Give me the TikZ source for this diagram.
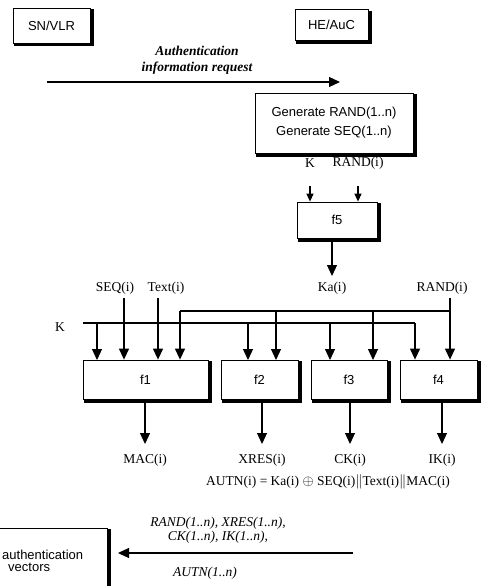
\documentclass[tikz,border=0pt]{standalone}
\usepackage{fontspec}
\setmainfont{Liberation Serif}
\setsansfont{Liberation Sans}
\usetikzlibrary{arrows.meta,calc}
\begin{document}
\begin{tikzpicture}[x=1pt,y=-1pt,
  box/.style={draw, fill=white, line width=0.8pt, font=\sffamily\fontsize{13}{15}\selectfont,
    inner sep=0pt, align=center},
  shade/.style={line width=2.6pt, line cap=rect},
  lbl/.style={font=\fontsize{13.5}{15}\selectfont, inner sep=0pt},
  ilbl/.style={font=\itshape\fontsize{13.5}{14}\selectfont, inner sep=0pt, align=center},
  conn/.style={line width=1.2pt},
  arr/.style={line width=1.2pt, -{Triangle[width=10pt,length=11pt]}},
  sarr/.style={line width=1.2pt, -{Triangle[width=7pt,length=8pt]}}
]
\useasboundingbox (0,0) rectangle (482,586);

% top boxes
\node[box, minimum width=77pt, minimum height=35pt] (sn) at (51.5,25.5) {SN/VLR};
\node[box, minimum width=73pt, minimum height=31pt] (he) at (331.5,25) {HE/AuC};

% request
\coordinate (rqs) at (47,82);
\coordinate (rqe) at (340,82);
\draw[arr] (rqs) -- (rqe);
\node[ilbl, font=\bfseries\itshape\fontsize{13.5}{16}\selectfont] (rql) at (197,60) {Authentication\\information request};

% generate
\node[box, minimum width=158pt, minimum height=60pt, font=\sffamily\fontsize{13}{19}\selectfont] (gen) at (334,123) {Generate RAND(1..n)\\Generate SEQ(1..n)};

% f5
\node[lbl] (k1) at (310,163) {K};
\node[lbl] (r1) at (358,163) {RAND(i)};
\node[box, minimum width=80pt, minimum height=36pt] (f5) at (337,220) {f5};
\coordinate (k1s) at (310,186);
\coordinate (r1s) at (358,186);
\draw[sarr] (k1s) -- (k1s |- f5.north);
\draw[sarr] (r1s) -- (r1s |- f5.north);

\node[lbl] (ka) at (332,288) {Ka(i)};
\coordinate (kas) at (332,240);
\draw[arr] (kas) -- (332,276);

% f boxes
\node[box, minimum width=125pt, minimum height=39pt] (f1) at (145.5,379.5) {f1};
\node[box, minimum width=77pt, minimum height=39pt] (f2) at (259.5,379.5) {f2};
\node[box, minimum width=76pt, minimum height=39pt] (f3) at (349,379.5) {f3};
\node[box, minimum width=77pt, minimum height=39pt] (f4) at (438.5,379.5) {f4};

% bottom box
\node[box, minimum width=112pt, minimum height=80pt] (av) at (51,568) {};

% shadows (right and bottom edges)
\foreach \b in {sn,he,gen,f5,f1,f2,f3,f4,av}{
  \draw[shade] ($(\b.north east)+(1.8,3)$) -- ($(\b.south east)+(1.8,1.8)$) -- ($(\b.south west)+(3,1.8)$);
}

% inputs
\node[lbl] (seq) at (115,288) {SEQ(i)};
\node[lbl] (txt) at (166,288) {Text(i)};
\node[lbl] (rnd) at (442,288) {RAND(i)};
\node[lbl] (k2) at (60,327) {K};

\coordinate (seqs) at (124,298);
\coordinate (txts) at (158,298);
\coordinate (rnds) at (450,298);
\coordinate (kst) at (83,323);
\coordinate (kend) at (415,323);
\coordinate (rst) at (180,311);
\coordinate (rend) at (450,311);

\draw[conn] (kst) -- (kend);
\draw[conn] (rst) -- (rend);

\draw[arr] (seqs) -- (seqs |- f1.north);
\draw[arr] (txts) -- (txts |- f1.north);
\draw[arr] (97,323) -- (97,360);
\draw[arr] (rst) -- (rst |- f1.north);
\draw[arr] (248,323) -- (248,360);
\draw[arr] (276,311) -- (276,360);
\draw[arr] (330,323) -- (330,360);
\draw[arr] (373,311) -- (373,360);
\draw[arr] (kend) -- (kend |- f4.north);
\draw[arr] (rnds) -- (rnds |- f4.north);

% outputs
\node[lbl] (mac) at (145,460) {MAC(i)};
\node[lbl] (xres) at (262,460) {XRES(i)};
\node[lbl] (ck) at (350,460) {CK(i)};
\node[lbl] (ik) at (442,460) {IK(i)};
\draw[arr] (145,401) -- (145,444);
\draw[arr] (262,401) -- (262,444);
\draw[arr] (350,401) -- (350,444);
\draw[arr] (442,401) -- (442,444);

\node[lbl] (autn) at (328,482) {AUTN(i) = Ka(i) $\oplus$ SEQ(i)$\|$Text(i)$\|$MAC(i)};

% bottom
\node[font=\sffamily\fontsize{13}{15}\selectfont, inner sep=0pt, anchor=west] (avt1) at (2,555) {authentication};
\node[font=\sffamily\fontsize{13}{15}\selectfont, inner sep=0pt, anchor=west] (avt2) at (8,567) {vectors};

\coordinate (bs) at (353,553);
\coordinate (be) at (118,553);
\draw[arr] (bs) -- (be);
\node[ilbl] (bl1) at (218,530) {RAND(1..n), XRES(1..n),\\CK(1..n), IK(1..n),};
\node[ilbl] (bl2) at (205,573) {AUTN(1..n)};
\end{tikzpicture}
\end{document}
